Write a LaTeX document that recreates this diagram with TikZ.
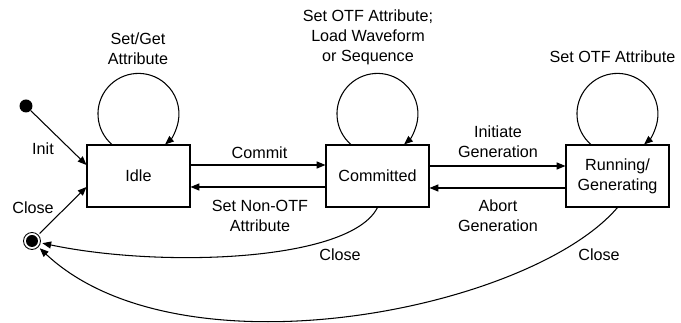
\documentclass[tikz,border=0pt]{standalone}
\usepackage{fontspec}
\setmainfont{Liberation Sans}
\usetikzlibrary{arrows.meta}
\begin{document}
\begin{tikzpicture}[x=0.02cm,y=-0.02cm,
  font=\fontsize{9.2}{11.3}\selectfont,
  every node/.style={inner sep=0pt},
  state/.style={draw,line width=0.6pt,minimum width=2.06cm,minimum height=1.24cm,align=center},
  lbl/.style={align=center},
  arr/.style={line width=0.6pt,-{Triangle[length=5pt,width=4pt]}},
  selfloop/.style={arr}]
\useasboundingbox (0,0) rectangle (681,323);

% states
\node[state] (idle) at (138.5,176) {Idle};
\node[state] (committed) at (377.5,176) {Committed};
\node[state] (running) at (617.5,176) {Running/\\Generating};

% pseudo states
\node[circle,fill,minimum size=0.26cm] (init) at (26,106) {};
\node[circle,draw,line width=0.5pt,minimum size=0.34cm,outer sep=1.2pt] (final) at (32,241) {};
\node[circle,fill,minimum size=0.24cm] (finaldot) at (final.center) {};

% self loops
\draw[selfloop] ([xshift=-0.532cm]idle.north) arc[start angle=131,end angle=409,radius=40.5];
\draw[selfloop] ([xshift=-0.532cm]committed.north) arc[start angle=131,end angle=409,radius=40.5];
\draw[selfloop] ([xshift=-0.532cm]running.north) arc[start angle=131,end angle=409,radius=40.5];

% transitions between states
\draw[arr] ([yshift=0.22cm]idle.east) -- ([yshift=0.22cm]committed.west);
\draw[arr] ([yshift=-0.22cm]committed.west) -- ([yshift=-0.22cm]idle.east);
\draw[arr] ([yshift=0.2cm]committed.east) -- ([yshift=0.2cm]running.west);
\draw[arr] ([yshift=-0.24cm]running.west) -- ([yshift=-0.24cm]committed.east);

% entry and exit
\draw[arr] (init) -- ([yshift=0.22cm]idle.west);
\draw[arr] (final) -- ([yshift=-0.22cm]idle.west);
\draw[arr] (committed.south) .. controls (350,262) and (160,268) .. (final);
\draw[arr] (running.south) .. controls (530,310) and (180,380) .. (final);

% transition labels
\node[lbl] (lsetget) at (138,48.5) {Set/Get\\Attribute};
\node[lbl] (lload) at (368,37) {Set OTF Attribute;\\Load Waveform\\or Sequence};
\node[lbl] (lsetotf) at (612.5,57) {Set OTF Attribute};
\node[lbl] (linit) at (43,149) {Init};
\node[lbl] (lclose1) at (33,208) {Close};
\node[lbl] (lcommit) at (259.5,153) {Commit};
\node[lbl] (lnonotf) at (260,216) {Set Non-OTF\\Attribute};
\node[lbl] (linitiate) at (498,142) {Initiate\\Generation};
\node[lbl] (labort) at (498,216) {Abort\\Generation};
\node[lbl] (lclose2) at (340,255) {Close};
\node[lbl] (lclose3) at (599,255) {Close};
\end{tikzpicture}
\end{document}
